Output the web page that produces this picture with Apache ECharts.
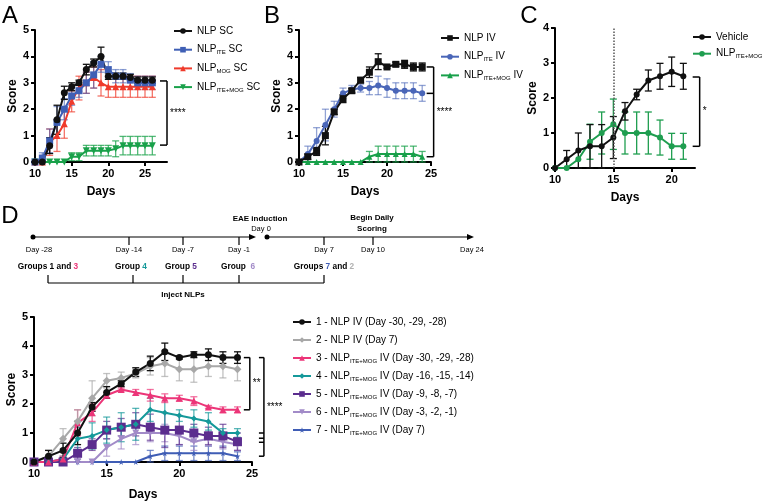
<!DOCTYPE html>
<html><head><meta charset="utf-8">
<script src="https://cdn.jsdelivr.net/npm/echarts@6/dist/echarts.min.js"></script>
<style>html,body{margin:0;padding:0;background:#fff}#c{width:762px;height:501px}</style>
</head><body><div id="c"></div><script>
// ---------- DATA ----------
const daysA = [10,11,12,13,14,15,16,17,18,19,20,21,22,23,24,25,26];
const aNLP      = [0,0,0.62,1.6,2.62,2.85,3.0,3.5,3.75,4.0,3.25,3.25,3.25,3.2,3.1,3.1,3.1];
const aNLPErr   = [0,0,0.3,0.55,0.25,0.15,0.1,0.2,0.15,0.35,0.12,0.12,0.12,0.12,0.12,0.12,0.12];
const aITE      = [0,0.15,0.8,1.5,2.0,2.5,2.7,3.0,3.3,3.7,3.5,3.25,3.25,3.1,3.0,3.0,3.0];
const aITEErr   = [0,0.2,0.45,0.6,0.4,0.35,0.25,0.4,0.5,0.3,0.3,0.25,0.25,0.25,0.25,0.25,0.25];
const aMOG      = [0,0,0.75,1.0,1.45,2.3,2.8,3.0,3.2,3.0,2.85,2.85,2.85,2.85,2.85,2.85,2.85];
const aMOGErr   = [0,0,0.5,0.6,0.55,0.4,0.45,0.4,0.4,0.5,0.4,0.4,0.4,0.4,0.4,0.4,0.4];
const aBoth     = [0,0,0,0,0,0.2,0.2,0.43,0.43,0.43,0.43,0.5,0.62,0.62,0.62,0.62,0.62];
const aBothErr  = [0,0,0,0,0,0.15,0.15,0.2,0.2,0.2,0.2,0.3,0.35,0.35,0.35,0.35,0.35];

const daysB = [10,11,12,13,14,15,16,17,18,19,20,21,22,23,24];
const bNLP      = [0,0.2,0.4,1.0,1.9,2.4,2.7,3.1,3.4,3.8,3.6,3.7,3.7,3.6,3.6];
const bNLPErr   = [0,0.1,0.15,0.35,0.1,0.15,0.08,0.1,0.2,0.3,0.05,0.08,0.15,0.15,0.15];
const bITE      = [0,0.3,0.8,1.4,2.0,2.6,2.75,2.8,2.8,2.9,2.8,2.7,2.7,2.7,2.6];
const bITEErr   = [0,0.3,0.5,0.6,0.3,0.2,0.15,0.15,0.25,0.35,0.35,0.3,0.3,0.3,0.3];
const bBoth     = [0,0,0,0,0,0,0,0,0.2,0.3,0.3,0.3,0.3,0.3,0.2];
const bBothErr  = [0,0,0,0,0,0,0,0,0.2,0.3,0.3,0.3,0.3,0.3,0.2];

const daysC = [10,11,12,13,14,15,16,17,18,19,20,21];
const cVeh      = [0,0.25,0.5,0.62,0.62,0.87,1.62,2.1,2.5,2.62,2.75,2.62];
const cVehErr   = [0,0.25,0.5,0.62,0.62,0.6,0.25,0.15,0.3,0.37,0.42,0.37];
const cBoth     = [0,0,0.25,0.75,1.0,1.25,1.0,1.0,1.0,0.87,0.62,0.62];
const cBothErr  = [0,0,0,0.5,0.6,0.72,0.6,0.6,0.6,0.5,0.37,0.37];

const daysD = [10,11,12,13,14,15,16,17,18,19,20,21,22,23,24];
const d1 = [0,0.2,0.4,1.0,1.9,2.4,2.7,3.1,3.4,3.8,3.6,3.7,3.7,3.6,3.6];
const d1e= [0,0.2,0.25,0.4,0.15,0.2,0.1,0.15,0.25,0.3,0.05,0.1,0.2,0.2,0.2];
const d2 = [0,0.2,0.8,1.4,2.2,2.8,2.9,3.05,3.3,3.4,3.2,3.2,3.3,3.3,3.2];
const d2e= [0,0.2,0.35,0.4,0.6,0.25,0.2,0.15,0.3,0.45,0.4,0.45,0.35,0.4,0.4];
const d3 = [0,0,0.1,1.35,1.7,2.3,2.5,2.4,2.3,2.2,2.2,2.1,1.9,1.8,1.8];
const d3e= [0,0,0.1,0.45,0.3,0.1,0.05,0.1,0.2,0.15,0.1,0.15,0.05,0.1,0.1];
const d4 = [0,0,0.1,0.8,0.9,1.1,1.2,1.3,1.8,1.7,1.6,1.5,1.4,1.0,1.0];
const d4e= [0,0,0.1,0.4,0.45,0.45,0.5,0.55,0.4,0.5,0.2,0.3,0.3,0.15,0.15];
const d5 = [0,0,0,0.3,0.6,1.1,1.2,1.3,1.2,1.1,1.1,1.0,0.9,0.9,0.7];
const d5e= [0,0,0,0.2,0.2,0.3,0.3,0.4,0.45,0.6,0.5,0.3,0.3,0.4,0.3];
const d6 = [0,0,0,0,0,0.5,0.8,1.0,1.0,1.0,0.9,0.7,0.8,0.7,0.6];
const d6e= [0,0,0,0,0,0.3,0.35,0.4,0.3,0.3,0.3,0.3,0.25,0.25,0.2];
const d7 = [0,0,0,0,0,0,0,0,0.2,0.3,0.3,0.3,0.3,0.3,0.2];
const d7e= [0,0,0,0,0,0,0,0,0.2,0.25,0.25,0.25,0.25,0.25,0.15];

const ticksA = [10,15,20,25], ticksB = [10,15,20,25], ticksC = [10,15,20], ticksD = [10,15,20,25];

// significance brackets (in data units)
const brA = {x:28, top:3.07, bottom:0.64, mids:[], label:'****'};
const brB = {x:25.3, top:3.6, bottom:0.2, mids:[2.6], label:'****'};
const brC = {x:22.4, top:2.6, bottom:0.62, mids:[], label:'*'};
const brD1 = {x:24.85, top:3.6, bottom:1.8, mids:[], label:'**'};
const brD2 = {x:25.82, top:3.6, bottom:0.2, mids:[1.0,0.82,0.68], label:'****'};

// ---------- STYLE / BUILD ----------
const FONT = 'Liberation Sans, Arial, Helvetica, sans-serif';
const STAR = 'path://M50,0 L61,35 L98,35 L68,57 L79,91 L50,70 L21,91 L32,57 L2,35 L39,35 Z';

const labels = {
  'NLP SC':'NLP SC', 'NLP ITE SC':'NLP{s|ITE} SC', 'NLP MOG SC':'NLP{s|MOG} SC', 'NLP ITE+MOG SC':'NLP{s|ITE+MOG} SC',
  'NLP IV':'NLP IV', 'NLP ITE IV':'NLP{s|ITE} IV', 'NLP ITE+MOG IV':'NLP{s|ITE+MOG} IV',
  'Vehicle':'Vehicle', 'NLP ITE+MOG':'NLP{s|ITE+MOG}',
  'D1':'1 - NLP IV (Day -30, -29, -28)', 'D2':'2 - NLP IV (Day 7)',
  'D3':'3 - NLP{s|ITE+MOG} IV (Day -30, -29, -28)', 'D4':'4 - NLP{s|ITE+MOG} IV (Day -16, -15, -14)',
  'D5':'5 - NLP{s|ITE+MOG} IV (Day -9, -8, -7)', 'D6':'6 - NLP{s|ITE+MOG} IV (Day -3, -2, -1)',
  'D7':'7 - NLP{s|ITE+MOG} IV (Day 7)'
};

function pairs(days, v){ return days.map((d,i)=>[d, v[i]]); }
function triples(days, v, e){ return days.map((d,i)=>[d, v[i], e[i]]); }

function line(name, g, days, v, color, symbol, size, rot){
  return {type:'line', name, xAxisIndex:g, yAxisIndex:g, data:pairs(days,v), symbol, symbolSize:size,
    symbolRotate: rot||0, lineStyle:{color, width:2}, itemStyle:{color}, z:3, animation:false, clip:false};
}
function errs(g, days, v, e, color){
  return {type:'custom', xAxisIndex:g, yAxisIndex:g, data:triples(days,v,e), encode:{x:0,y:1}, z:2, silent:true, animation:false,
    renderItem:function(params, api){
      const x=api.value(0), y=api.value(1), er=api.value(2);
      if(!er) return null;
      const t=api.coord([x,y+er]), b=api.coord([x,Math.max(0,y-er)]);
      const w=3.5, st={stroke:color, lineWidth:1.3};
      return {type:'group', children:[
        {type:'line', shape:{x1:t[0],y1:t[1],x2:b[0],y2:b[1]}, style:st},
        {type:'line', shape:{x1:t[0]-w,y1:t[1],x2:t[0]+w,y2:t[1]}, style:st},
        {type:'line', shape:{x1:b[0]-w,y1:b[1],x2:b[0]+w,y2:b[1]}, style:st}
      ]};
    }};
}
function bracket(g, br, tick, fs){
  return {type:'custom', xAxisIndex:g, yAxisIndex:g, data:[[br.x, br.top]], encode:{x:0,y:1}, silent:true, animation:false, clip:false, z:1,
    renderItem:function(params, api){
      const p1=api.coord([br.x, br.top]), p2=api.coord([br.x, br.bottom]);
      const st={stroke:'#000', lineWidth:1.5};
      const ch=[
        {type:'line', shape:{x1:p1[0],y1:p1[1],x2:p2[0],y2:p2[1]}, style:st},
        {type:'line', shape:{x1:p1[0]-tick,y1:p1[1],x2:p1[0],y2:p1[1]}, style:st},
        {type:'line', shape:{x1:p2[0]-tick,y1:p2[1],x2:p2[0],y2:p2[1]}, style:st}
      ];
      br.mids.forEach(m=>{ const p=api.coord([br.x,m]); ch.push({type:'line', shape:{x1:p[0]-tick,y1:p[1],x2:p[0],y2:p[1]}, style:st}); });
      ch.push({type:'text', x:p1[0]+3, y:(p1[1]+p2[1])/2, style:{text:br.label, fill:'#000', fontSize:fs||10, fontFamily:FONT, align:'left', verticalAlign:'middle'}});
      return {type:'group', children:ch};
    }};
}

const axLine = {show:true, onZero:false, lineStyle:{color:'#000', width:2}};
const axTick = {show:true, length:4, inside:false, lineStyle:{color:'#000', width:2}};
const lblSt = {color:'#000', fontSize:11, fontWeight:'bold', fontFamily:FONT};
const nameSt = {color:'#000', fontSize:12, fontWeight:'bold', fontFamily:FONT};

function xAx(g, min, max, ticks, gap){
  return {type:'value', gridIndex:g, min, max, interval:5, axisLine:axLine,
    axisTick:Object.assign({customValues:ticks}, axTick),
    axisLabel:Object.assign({customValues:ticks, margin:6}, lblSt),
    splitLine:{show:false}, name:'Days', nameLocation:'middle', nameGap:gap, nameTextStyle:nameSt};
}
function yAx(g, max, gap){
  return {type:'value', gridIndex:g, min:0, max, interval:1, axisLine:axLine, axisTick:axTick,
    axisLabel:Object.assign({margin:6}, lblSt), splitLine:{show:false},
    name:'Score', nameLocation:'middle', nameGap:gap, nameTextStyle:nameSt};
}
function legend(names, left, top, gap){
  return {data:names.map(n=>({name:n})), orient:'vertical', left, top, itemWidth:18, itemHeight:7, itemGap:gap,
    textStyle:{fontFamily:FONT, fontSize:10, color:'#000', lineHeight:12,
      rich:{s:{fontSize:6, fontFamily:FONT, color:'#000', lineHeight:7, verticalAlign:'bottom'}}},
    formatter:function(n){ return labels[n]; }, selectedMode:false, padding:0, itemStyle:{borderWidth:0}};
}

// colours
const K='#111111';
const A_BLUE='#3f5fb5', A_RED='#ef3a2b', A_GREEN='#19a14a';
const B_BLUE='#4a66b8', B_GREEN='#18a04a', C_GREEN='#1f9e50';
const D_GRAY='#a8a8a8', D_PINK='#ec3578', D_TEAL='#15999a', D_PURP='#5b2d8e', D_LAV='#a28bc8', D_BLUE='#3f5db5';
function fade(hex, a){ const n=parseInt(hex.slice(1),16); return 'rgba('+(n>>16)+','+((n>>8)&255)+','+(n&255)+','+a+')'; }

const series = [
  // A
  errs(0, daysA, aBoth, aBothErr, fade(A_GREEN,0.75)),
  errs(0, daysA, aMOG, aMOGErr, fade(A_RED,0.7)),
  errs(0, daysA, aITE, aITEErr, fade(A_BLUE,0.6)),
  errs(0, daysA, aNLP, aNLPErr, K),
  line('NLP ITE+MOG SC', 0, daysA, aBoth, A_GREEN, 'triangle', 7, 180),
  line('NLP MOG SC', 0, daysA, aMOG, A_RED, 'triangle', 7),
  line('NLP ITE SC', 0, daysA, aITE, A_BLUE, 'rect', 7),
  line('NLP SC', 0, daysA, aNLP, K, 'circle', 7),
  bracket(0, brA, 7, 10),
  // B
  errs(1, daysB, bBoth, bBothErr, fade(B_GREEN,0.75)),
  errs(1, daysB, bITE, bITEErr, fade(B_BLUE,0.6)),
  errs(1, daysB, bNLP, bNLPErr, K),
  line('NLP ITE+MOG IV', 1, daysB, bBoth, B_GREEN, 'triangle', 6),
  line('NLP ITE IV', 1, daysB, bITE, B_BLUE, 'circle', 6),
  line('NLP IV', 1, daysB, bNLP, K, 'rect', 7),
  bracket(1, brB, 7, 10),
  // C
  errs(2, daysC, cBoth, cBothErr, C_GREEN),
  errs(2, daysC, cVeh, cVehErr, K),
  line('NLP ITE+MOG', 2, daysC, cBoth, C_GREEN, 'circle', 6),
  Object.assign(line('Vehicle', 2, daysC, cVeh, K, 'circle', 6), {
    markLine:{silent:true, symbol:'none', label:{show:false}, animation:false,
      lineStyle:{color:'#555', type:'dotted', width:1.5}, data:[{xAxis:15}]}}),
  bracket(2, brC, 7, 10),
  // D
  errs(3, daysD, d7, d7e, fade(D_BLUE,0.7)),
  errs(3, daysD, d6, d6e, fade(D_LAV,0.7)),
  errs(3, daysD, d5, d5e, fade(D_PURP,0.7)),
  errs(3, daysD, d4, d4e, fade(D_TEAL,0.7)),
  errs(3, daysD, d3, d3e, fade(D_PINK,0.7)),
  errs(3, daysD, d2, d2e, fade(D_GRAY,0.7)),
  errs(3, daysD, d1, d1e, K),
  line('D7', 3, daysD, d7, D_BLUE, STAR, 6),
  line('D6', 3, daysD, d6, D_LAV, 'triangle', 7, 180),
  line('D5', 3, daysD, d5, D_PURP, 'rect', 9),
  line('D4', 3, daysD, d4, D_TEAL, 'diamond', 6),
  line('D3', 3, daysD, d3, D_PINK, 'triangle', 7),
  line('D2', 3, daysD, d2, D_GRAY, 'diamond', 8),
  line('D1', 3, daysD, d1, K, 'circle', 7),
  bracket(3, brD1, 6, 10),
  bracket(3, brD2, 5, 10)
];

// timeline schematic for panel D (graphic layer)
function t(x, y, text, opt){ return Object.assign({type:'text', x, y, silent:true, style:Object.assign({text, fill:'#000', fontFamily:FONT, fontSize:7.5, align:'center', verticalAlign:'middle'}, opt||{})}); }
function ln(x1,y1,x2,y2,w){ return {type:'line', silent:true, shape:{x1,y1,x2,y2}, style:{stroke:'#000', lineWidth:w||1.2}}; }
const TL_Y = 237;
const grp = {fontWeight:'bold', fontSize:8.3, rich:{
  k:{fontWeight:'bold', fontSize:8.3, fill:'#000', fontFamily:FONT},
  c3:{fontWeight:'bold', fontSize:8.3, fill:D_PINK, fontFamily:FONT},
  c4:{fontWeight:'bold', fontSize:8.3, fill:D_TEAL, fontFamily:FONT},
  c5:{fontWeight:'bold', fontSize:8.3, fill:D_PURP, fontFamily:FONT},
  c6:{fontWeight:'bold', fontSize:8.3, fill:D_LAV, fontFamily:FONT},
  c7:{fontWeight:'bold', fontSize:8.3, fill:D_BLUE, fontFamily:FONT},
  c2:{fontWeight:'bold', fontSize:8.3, fill:'#b0b0b0', fontFamily:FONT}
}};
const graphic = [
  t(10, 16, 'A', {fontSize:24}), t(272, 16, 'B', {fontSize:24}), t(529, 16, 'C', {fontSize:24}), t(10, 216, 'D', {fontSize:24}),
  ln(33, TL_Y, 251, TL_Y), {type:'polygon', silent:true, shape:{points:[[256,TL_Y],[249,TL_Y-3],[249,TL_Y+3]]}, style:{fill:'#000'}},
  {type:'circle', silent:true, shape:{cx:33, cy:TL_Y, r:2.5}, style:{fill:'#000'}},
  ln(267, TL_Y, 469, TL_Y), {type:'polygon', silent:true, shape:{points:[[474,TL_Y],[467,TL_Y-3],[467,TL_Y+3]]}, style:{fill:'#000'}},
  {type:'circle', silent:true, shape:{cx:267, cy:TL_Y, r:2.5}, style:{fill:'#000'}},
  ln(129,TL_Y,129,245), ln(183,TL_Y,183,245), ln(239,TL_Y,239,245), ln(324,TL_Y,324,245), ln(373,TL_Y,373,245),
  t(39,250,'Day -28'), t(129,250,'Day -14'), t(183,250,'Day -7'), t(239,250,'Day -1'),
  t(324,250,'Day 7'), t(373,250,'Day 10'), t(472,250,'Day 24'),
  t(260,219,'EAE induction',{fontWeight:'bold', fontSize:8}), t(261,229,'Day 0'),
  t(372,218,'Begin Daily',{fontWeight:'bold', fontSize:8}), t(372,229,'Scoring',{fontWeight:'bold', fontSize:8}),
  t(48,267,'{k|Groups 1 and }{c3|3}', grp), t(131,267,'{k|Group }{c4|4}', grp), t(181,267,'{k|Group }{c5|5}', grp),
  t(238,267,'{k|Group  }{c6|6}', grp), t(324,267,'{k|Groups }{c7|7}{k| and }{c2|2}', grp),
  ln(48,283,324,283), ln(48,275,48,283), ln(133,275,133,283), ln(183,275,183,283), ln(239,275,239,283), ln(324,275,324,283),
  t(183,295,'Inject NLPs',{fontWeight:'bold', fontSize:8})
];

const option = {
  backgroundColor:'#fff', animation:false,
  textStyle:{fontFamily:FONT},
  grid:[
    {left:35, top:30, width:132, height:132, outerBoundsMode:'none', containLabel:false},
    {left:299, top:30, width:132, height:132, outerBoundsMode:'none', containLabel:false},
    {left:555, top:28, width:140, height:140, outerBoundsMode:'none', containLabel:false},
    {left:34, top:317, width:218, height:145, outerBoundsMode:'none', containLabel:false}
  ],
  xAxis:[ xAx(0,10,28,ticksA,24), xAx(1,10,25,ticksB,24), xAx(2,10,22,ticksC,24), xAx(3,10,25,ticksD,27) ],
  yAxis:[ yAx(0,5,14), yAx(1,5,14), yAx(2,4,14), yAx(3,5,14) ],
  legend:[
    legend(['NLP SC','NLP ITE SC','NLP MOG SC','NLP ITE+MOG SC'], 173, 25, 6.7),
    legend(['NLP IV','NLP ITE IV','NLP ITE+MOG IV'], 440, 32, 6.7),
    legend(['Vehicle','NLP ITE+MOG'], 692, 31, 4.7),
    legend(['D1','D2','D3','D4','D5','D6','D7'], 292, 316, 6.0)
  ],
  series, graphic
};
const chart = echarts.init(document.getElementById('c'), null, {renderer:'canvas'});
chart.setOption(option);
</script></body></html>
